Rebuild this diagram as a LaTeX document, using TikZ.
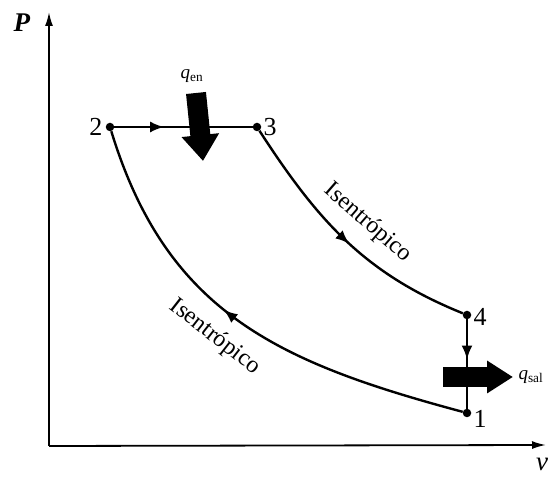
\documentclass[tikz,border=0pt]{standalone}
\usepackage{fontspec}
\setmainfont{Liberation Serif}
\usepackage{tikz}
\usetikzlibrary{positioning, arrows.meta, decorations.markings}

\begin{document}
\begin{tikzpicture}[
    x=1pt, y=1pt,
    axis/.style={-{Latex[length=14pt, width=8pt]}, line width=1.8pt},
    cycleline/.style={line width=2.4pt},
    midarrow/.style={
        postaction={decorate},
        decoration={markings,
            mark=at position #1 with {\arrow{Latex[length=14pt, width=11pt]}}}
    },
    dot/.style={
        circle,
        fill=black,
        inner sep=0pt,
        minimum size=8.5pt
    },
    numlabel/.style={
        font=\fontsize{26}{30}\selectfont,
        inner sep=1pt
    },
    processlabel/.style={
        font=\fontsize{24}{28}\selectfont
    },
    heatarrow/.style={line width=#1},
    heatlabel/.style={
        font=\fontsize{19}{22}\selectfont
    }
]

\useasboundingbox (0,0) rectangle (549,478);

% === AXES ===
\coordinate (origin) at (49,32);
\coordinate (ptop) at (49,466);
\coordinate (vend) at (546,33);
\draw [axis] (origin) -- (ptop);
\draw [axis] (origin) -- (vend);
\node (plabel) [font=\fontsize{27}{30}\selectfont] at (22,455) {\textbf{\textit{P}}};
\node (vlabel) [font=\fontsize{27}{30}\selectfont] at (542,14) {\textit{v}};

% === STATES ===
\node (p2) [dot] at (110,351) {};
\node (p3) [dot] at (257,351) {};
\node (p4) [dot] at (467,163) {};
\node (p1) [dot] at (467,65) {};

\node [numlabel, left=2pt of p2] {2};
\node [numlabel, right=1pt of p3] {3};
\node [numlabel, right=1pt of p4, yshift=-2pt] {4};
\node [numlabel, right=1pt of p1, yshift=-6pt] {1};

% === PROCESSES ===
\draw [cycleline, midarrow=0.36] (p2) -- (p3);
\draw [cycleline, midarrow=0.52] (p3) to[out=-57, in=158] (p4);
\draw [cycleline, midarrow=0.45] (p4) -- (p1);
\draw [cycleline, midarrow=0.55] (p1) to[out=165, in=-73, looseness=1.08] (p2);

\node (isen34) [processlabel, rotate=-41] at (368,255) {Isentrópico};
\node (isen12) [processlabel, rotate=-38] at (215,141) {Isentrópico};

% === HEAT ===
\coordinate (qenstart) at (196,385);
\coordinate (qenend) at (203,317);
\draw [heatarrow=20pt, -{Triangle[length=26pt, width=36pt]}] (qenstart) -- (qenend);
\node (qen) [heatlabel] at (192,402) {\textit{q}\textsubscript{en}};

\coordinate (qsalstart) at (443,101);
\coordinate (qsalend) at (513,101);
\draw [heatarrow=20pt, -{Triangle[length=26pt, width=31pt]}] (qsalstart) -- (qsalend);
\node (qsal) [heatlabel, anchor=west] at (515,101) {\textit{q}\textsubscript{sal}};

\end{tikzpicture}
\end{document}
